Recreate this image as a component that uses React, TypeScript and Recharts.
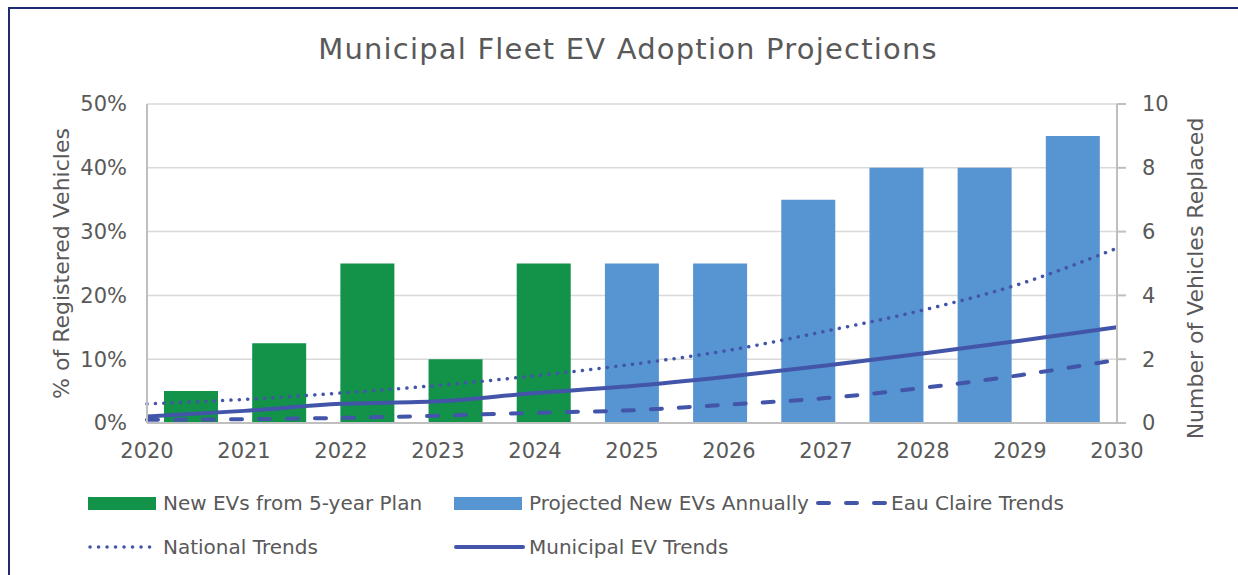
import React from 'react';
import {
  ComposedChart,
  Bar,
  Line,
  XAxis,
  YAxis,
  CartesianGrid,
} from 'recharts';

// chart values
const years = [2020, 2021, 2022, 2023, 2024, 2025, 2026, 2027, 2028, 2029, 2030];
const planEVs = [1, 2.5, 5, 2, 5, null, null, null, null, null, null];
const projectedEVs = [null, null, null, null, null, 5, 5, 7, 8, 8, 9];
const eauClaireTrend = [0.5, 0.6, 0.8, 1.15, 1.6, 2.0, 2.9, 3.9, 5.5, 7.5, 9.9];
const nationalTrend = [3.0, 3.7, 4.7, 5.9, 7.4, 9.2, 11.4, 14.4, 17.7, 21.8, 27.4];
const municipalTrend = [1.0, 1.9, 3.0, 3.4, 4.7, 5.8, 7.3, 9.0, 10.9, 12.9, 15.0];
const percentTicks = [0, 10, 20, 30, 40, 50];
const vehicleTicks = [0, 2, 4, 6, 8, 10];

const data = years.map((year, i) => ({
  year,
  plan: planEVs[i],
  projected: projectedEVs[i],
  eauClaire: eauClaireTrend[i],
  national: nationalTrend[i],
  municipal: municipalTrend[i],
}));

const FONT = '"DejaVu Sans", sans-serif';
const TEXT = '#595959';
const GREEN = '#13924A';
const BLUE = '#5794D2';
const LINE = '#4355A9';
const AXIS = '#BFBFBF';
const GRID = '#D9D9D9';

const tickStyle = { fontSize: 21, fill: TEXT, fontFamily: FONT };

// rotated axis title, placed relative to the axis box
function axisTitle(text: string, side: 'left' | 'right') {
  return (props: any) => {
    const vb = props.viewBox;
    const x = side === 'left' ? vb.x + vb.width - 78 : vb.x + 86;
    const y = vb.y + vb.height / 2 + (side === 'left' ? 0 : 15);
    return (
      <text
        x={x}
        y={y}
        transform={`rotate(-90, ${x}, ${y})`}
        textAnchor="middle"
        fontSize={22}
        fill={TEXT}
        fontFamily={FONT}
      >
        {text}
      </text>
    );
  };
}

function LegendItem({ left, top, label, icon }: { left: number; top: number; label: string; icon: React.ReactNode }) {
  return (
    <div style={{ position: 'absolute', left, top, height: 20, display: 'flex', alignItems: 'center' }}>
      <div style={{ width: 75, height: 20, display: 'flex', alignItems: 'center' }}>{icon}</div>
      <span style={{ fontSize: 20, lineHeight: '20px', color: TEXT, fontFamily: FONT, whiteSpace: 'nowrap' }}>{label}</span>
    </div>
  );
}

const rectIcon = (color: string) => <div style={{ width: 68, height: 13, background: color }} />;

const lineIcon = (dash: string | undefined, width: number) => (
  <svg width={72} height={20}>
    <line
      x1={2}
      y1={10}
      x2={69}
      y2={10}
      stroke={LINE}
      strokeWidth={width}
      strokeDasharray={dash}
      strokeLinecap="round"
    />
  </svg>
);

export default function App() {
  return (
    <div
      style={{
        position: 'absolute',
        left: 0,
        top: 0,
        width: 1238,
        height: 575,
        overflow: 'hidden',
        background: '#fff',
        fontFamily: FONT,
      }}
    >
      <div
        style={{
          position: 'absolute',
          left: 8,
          top: 7,
          width: 1260,
          height: 600,
          borderLeft: '2px solid #1F2B6E',
          borderTop: '2px solid #1F2B6E',
        }}
      />
      <div
        style={{
          position: 'absolute',
          left: 128,
          top: 35,
          width: 1000,
          textAlign: 'center',
          fontSize: 29,
          lineHeight: '29px',
          letterSpacing: 1.2,
          color: TEXT,
          fontFamily: FONT,
        }}
      >
        Municipal Fleet EV Adoption Projections
      </div>

      <div style={{ position: 'absolute', left: 0, top: 0 }}>
        <ComposedChart
          width={1238}
          height={575}
          data={data}
          margin={{ top: 104, right: 20, bottom: 112, left: 52 }}
        >
          <CartesianGrid vertical={false} stroke={GRID} strokeWidth={1.5} xAxisId="num" yAxisId="left" />
          <XAxis
            xAxisId="num"
            dataKey="year"
            type="number"
            domain={[2020, 2030]}
            ticks={years}
            allowDecimals={false}
            height={40}
            tickLine={false}
            tickSize={0}
            tickMargin={20}
            axisLine={{ stroke: AXIS, strokeWidth: 2 }}
            tick={tickStyle}
          />
          <XAxis xAxisId="cat" dataKey="year" type="category" height={0} hide />
          <YAxis
            yAxisId="left"
            domain={[0, 50]}
            ticks={percentTicks}
            tickFormatter={(v: number) => `${v}%`}
            width={95}
            tickLine={false}
            tickSize={0}
            tickMargin={20}
            axisLine={{ stroke: AXIS, strokeWidth: 2 }}
            tick={tickStyle}
            label={{ content: axisTitle('% of Registered Vehicles', 'left') }}
          />
          <YAxis
            yAxisId="right"
            orientation="right"
            domain={[0, 10]}
            ticks={vehicleTicks}
            width={101}
            tickLine={{ stroke: AXIS, strokeWidth: 2 }}
            tickSize={9}
            tickMargin={16}
            axisLine={{ stroke: AXIS, strokeWidth: 2 }}
            tick={tickStyle}
            label={{ content: axisTitle('Number of Vehicles Replaced', 'right') }}
          />
          <Bar
            dataKey="plan"
            name="New EVs from 5-year Plan"
            xAxisId="cat"
            yAxisId="right"
            stackId="ev"
            barSize={54}
            fill={GREEN}
            isAnimationActive={false}
          />
          <Bar
            dataKey="projected"
            name="Projected New EVs Annually"
            xAxisId="cat"
            yAxisId="right"
            stackId="ev"
            barSize={54}
            fill={BLUE}
            isAnimationActive={false}
          />
          <Line
            dataKey="eauClaire"
            name="Eau Claire Trends"
            xAxisId="num"
            yAxisId="left"
            type="monotone"
            stroke={LINE}
            strokeWidth={4}
            strokeDasharray="11 17"
            strokeLinecap="round"
            dot={false}
            activeDot={false}
            isAnimationActive={false}
          />
          <Line
            dataKey="national"
            name="National Trends"
            xAxisId="num"
            yAxisId="left"
            type="monotone"
            stroke={LINE}
            strokeWidth={3.5}
            strokeDasharray="0.1 8.3"
            strokeLinecap="round"
            dot={false}
            activeDot={false}
            isAnimationActive={false}
          />
          <Line
            dataKey="municipal"
            name="Municipal EV Trends"
            xAxisId="num"
            yAxisId="left"
            type="monotone"
            stroke={LINE}
            strokeWidth={4}
            dot={false}
            activeDot={false}
            isAnimationActive={false}
          />
        </ComposedChart>
      </div>

      <LegendItem left={88} top={493} label="New EVs from 5-year Plan" icon={rectIcon(GREEN)} />
      <LegendItem left={454} top={493} label="Projected New EVs Annually" icon={rectIcon(BLUE)} />
      <LegendItem left={816} top={493} label="Eau Claire Trends" icon={lineIcon('11 17', 4)} />
      <LegendItem left={88} top={537} label="National Trends" icon={lineIcon('0.1 8.4', 3.5)} />
      <LegendItem left={454} top={537} label="Municipal EV Trends" icon={lineIcon(undefined, 4)} />
    </div>
  );
}
